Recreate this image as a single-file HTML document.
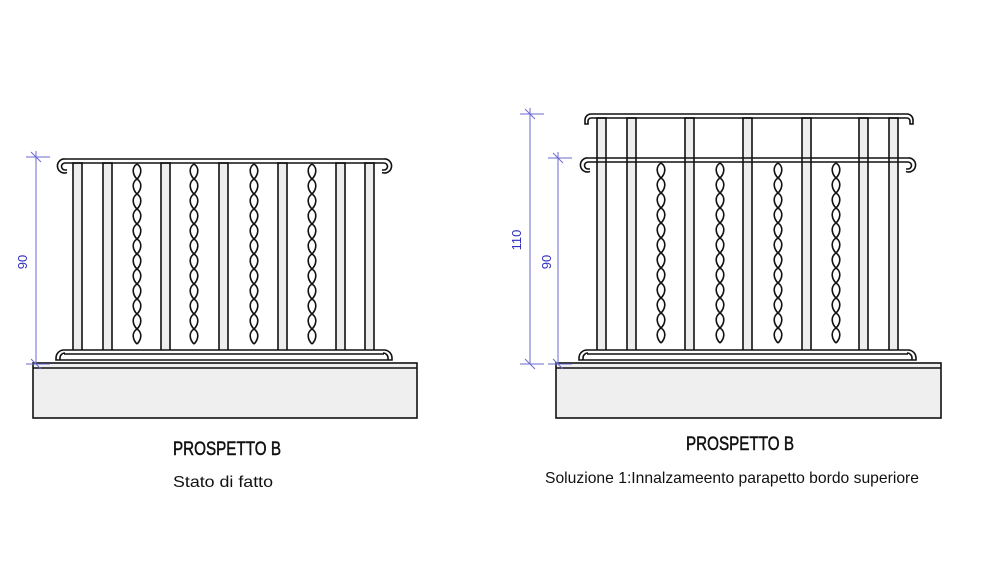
<!DOCTYPE html>
<html><head><meta charset="utf-8"><style>
html,body{margin:0;padding:0;background:#fff;}
svg{display:block}
text{font-family:"Liberation Sans",sans-serif;fill:#111}
</style></head><body>
<svg id="s" width="1000" height="573" viewBox="0 0 1000 573" xmlns="http://www.w3.org/2000/svg">
<g id="g" fill="none" stroke="#111" stroke-width="1.6"></g>
<text x="227" y="455" font-size="19" text-anchor="middle" textLength="108" lengthAdjust="spacingAndGlyphs" stroke="#111" stroke-width="0.5">PROSPETTO B</text>
<text x="223" y="487" font-size="16" text-anchor="middle" textLength="100" lengthAdjust="spacingAndGlyphs">Stato di fatto</text>
<text x="740" y="450" font-size="19" text-anchor="middle" textLength="108" lengthAdjust="spacingAndGlyphs" stroke="#111" stroke-width="0.5">PROSPETTO B</text>
<text x="732" y="483" font-size="16" text-anchor="middle" textLength="374" lengthAdjust="spacingAndGlyphs">Soluzione 1:Innalzameento parapetto bordo superiore</text>
<text transform="translate(27,262) rotate(-90)" font-size="13" text-anchor="middle" style="fill:#3030c0">90</text>
<text transform="translate(521,240) rotate(-90)" font-size="13" text-anchor="middle" style="fill:#3030c0">110</text>
<text transform="translate(551,262) rotate(-90)" font-size="13" text-anchor="middle" style="fill:#3030c0">90</text>
</svg>
<script>
const g=document.getElementById('g');let h='';
function bar(x,y1,y2){h+=`<rect x="${x}" y="${y1}" width="9" height="${y2-y1}" fill="#eee"/>`;}
function twist(cx,y1,y2){let d1=`M${cx},${y1}`,d2=`M${cx},${y1}`;let s=1;for(let y=y1;y<y2-8;y+=15){d1+=` C${cx+6*s},${y+4} ${cx+4*s},${y+11} ${cx},${y+15}`;d2+=` C${cx-6*s},${y+4} ${cx-4*s},${y+11} ${cx},${y+15}`;s=-s;}h+=`<path d="${d1}"/><path d="${d2}"/>`;}
function rail(x1,x2,y,curl){h+=`<path d="M${x1+8},${y} H${x2-8} M${x1+8},${y+4} H${x2-8}"/>`;
 if(curl){h+=`<path d="M${x1+8},${y} a7,7 0 1 0 2,13.5 M${x1+8},${y+4} a3.5,3.5 0 0 0 0,7 h2 M${x2-8},${y} a7,7 0 1 1 -2,13.5 M${x2-8},${y+4} a3.5,3.5 0 0 1 0,7 h-2"/>`;}
 else{h+=`<path d="M${x1+8},${y} a6,6 0 0 0 -6,6 v4 h3 v-3 a3,3 0 0 1 3,-3 M${x2-8},${y} a6,6 0 0 1 6,6 v4 h-3 v-3 a3,3 0 0 0 -3,-3"/>`;}}
function base(x1,x2,y){h+=`<path d="M${x1},${y+8} v-2 a8,8 0 0 1 8,-8 H${x2-8} a8,8 0 0 1 8,8 v2 Z" fill="#fff"/><path d="M${x1+4},${y+8} v-2 a5,5 0 0 1 5,-5"/><path d="M${x2-4},${y+8} v-2 a5,5 0 0 0 -5,-5"/><path d="M${x1+8},${y+2} H${x2-8}"/>`;}
// left
[73,103,161,219,278,336,365].forEach(x=>bar(x,163,352));
[137,194,254,312].forEach(x=>twist(x,164,348));
rail(57,392,159,true);
base(56,392,352);
h+=`<rect x="33" y="363" width="384" height="55" fill="#efefef"/><line x1="33" y1="368" x2="417" y2="368"/>`;
// right
[597,627,685,743,802,859,889].forEach(x=>bar(x,118,352));
[661,720,778,836].forEach(x=>twist(x,163,348));
rail(583,915,114,false);
rail(580,916,158,true);
base(579,916,352);
h+=`<rect x="556" y="363" width="385" height="55" fill="#efefef"/><line x1="556" y1="368" x2="941" y2="368"/>`;
// dims
const b='stroke="#6a6ad0" stroke-width="1"';
function dim(x,y1,y2,len){h+=`<line ${b} x1="${x}" y1="${y1-6}" x2="${x}" y2="${y2}"/><line ${b} x1="${x-10}" y1="${y1}" x2="${x+len}" y2="${y1}"/><line ${b} x1="${x-5}" y1="${y1-5}" x2="${x+5}" y2="${y1+5}"/><line ${b} x1="${x-10}" y1="${y2}" x2="${x+len}" y2="${y2}"/><line ${b} x1="${x-5}" y1="${y2-5}" x2="${x+5}" y2="${y2+5}"/>`;}
dim(36,157,364,14);
dim(530,114,364,14);
dim(558,158,364,14);
g.innerHTML=h;
</script>
</body></html>
